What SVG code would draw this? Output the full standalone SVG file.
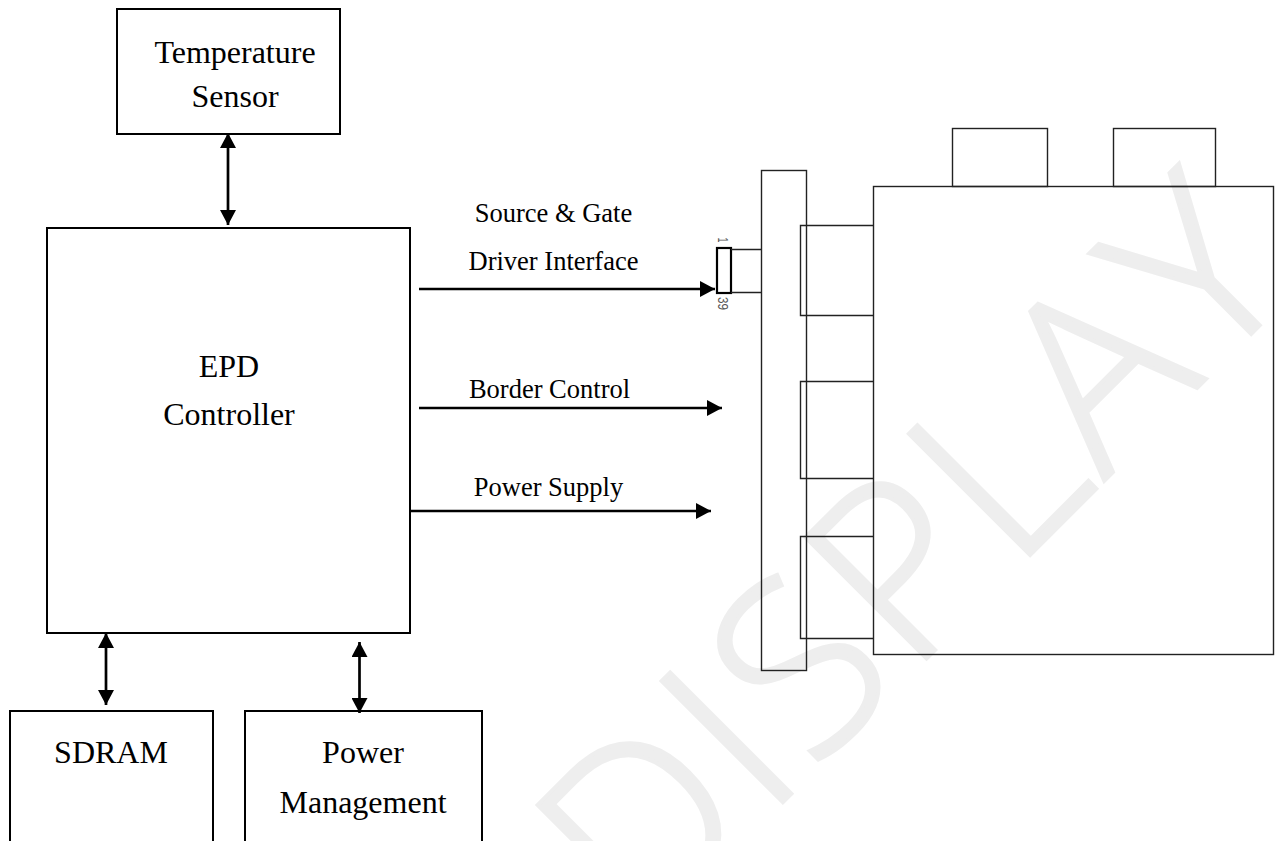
<svg xmlns="http://www.w3.org/2000/svg" width="1275" height="841" viewBox="0 0 1275 841">
<style>
.b{fill:none;stroke:#000;stroke-width:2}
.t{fill:none;stroke:#222;stroke-width:1.4}
.c{fill:none;stroke:#000;stroke-width:2.700}
.l{font-family:"Liberation Serif","Times New Roman",serif;font-size:32px;fill:#000;text-anchor:middle}
.s{font-family:"Liberation Serif","Times New Roman",serif;font-size:26.500px;fill:#000;text-anchor:middle}
.p{font-family:"Liberation Sans",Arial,sans-serif;font-size:15px;fill:#555;text-anchor:middle}
.w{font-family:"Open Sans","Liberation Sans",sans-serif;font-weight:300;font-size:240px;letter-spacing:6px;fill:#eee;stroke:#eee;stroke-width:4;text-anchor:middle}
</style>
<defs>
<marker id="a" markerUnits="userSpaceOnUse" markerWidth="16" markerHeight="16" refX="15" refY="8" orient="auto-start-reverse"><path d="M0 0L15 8L0 16Z" fill="#000"/></marker>
</defs>
<rect width="1275" height="841" fill="#fff"/>
<text id="watermark" class="w" transform="translate(973 612) rotate(-45)">DISPLAY</text>
<g id="temperature-sensor"><rect class="b" x="117" y="9" width="223" height="125"/><text class="l" x="235" y="63">Temperature</text><text class="l" x="235" y="107">Sensor</text></g>
<g id="epd-controller"><rect class="b" x="47" y="228" width="363" height="405"/><text class="l" x="229" y="377">EPD</text><text class="l" x="229" y="425">Controller</text></g>
<g id="sdram"><rect class="b" x="10" y="711" width="203" height="140"/><text class="l" x="111" y="763">SDRAM</text></g>
<g id="power-management"><rect class="b" x="245" y="711" width="237" height="140"/><text class="l" x="363" y="763">Power</text><text class="l" x="363" y="813">Management</text></g>
<g id="display-panel">
<rect class="t" x="873.5" y="186.5" width="400" height="468"/>
<rect class="t" x="952.5" y="128.5" width="95" height="58"/>
<rect class="t" x="1113.5" y="128.5" width="102" height="58"/>
<path class="t" d="M873 225.500H800.500V315.500H873M873 381.500H800.500V478.500H873M873 536.500H800.500V638.500H873"/>
<rect class="t" x="761.500" y="170.500" width="45" height="500"/>
</g>
<g id="fpc-connector">
<rect x="717" y="248" width="14" height="45" fill="none" stroke="#000" stroke-width="2.200"/>
<path class="t" d="M731 249.500H761M731 292.500H761"/>
<text class="p" transform="translate(718 240) rotate(90)" textLength="5" lengthAdjust="spacingAndGlyphs">1</text>
<text class="p" transform="translate(718 303.500) rotate(90)" textLength="13" lengthAdjust="spacingAndGlyphs">39</text>
</g>
<g id="connectors">
<path class="c" d="M228 133V225" marker-start="url(#a)" marker-end="url(#a)"/>
<path class="c" d="M106 633V705" marker-start="url(#a)" marker-end="url(#a)"/>
<path class="c" d="M359.500 642V713" marker-start="url(#a)" marker-end="url(#a)"/>
<path class="c" d="M419 289H715" marker-end="url(#a)"/>
<path class="c" d="M419 408H722" marker-end="url(#a)"/>
<path class="c" d="M411 511H711" marker-end="url(#a)"/>
</g>
<g id="labels">
<text class="s" x="553.500" y="222">Source &amp; Gate</text>
<text class="s" x="553.500" y="270">Driver Interface</text>
<text class="s" x="549.500" y="398">Border Control</text>
<text class="s" x="548.500" y="496">Power Supply</text>
</g>
</svg>
